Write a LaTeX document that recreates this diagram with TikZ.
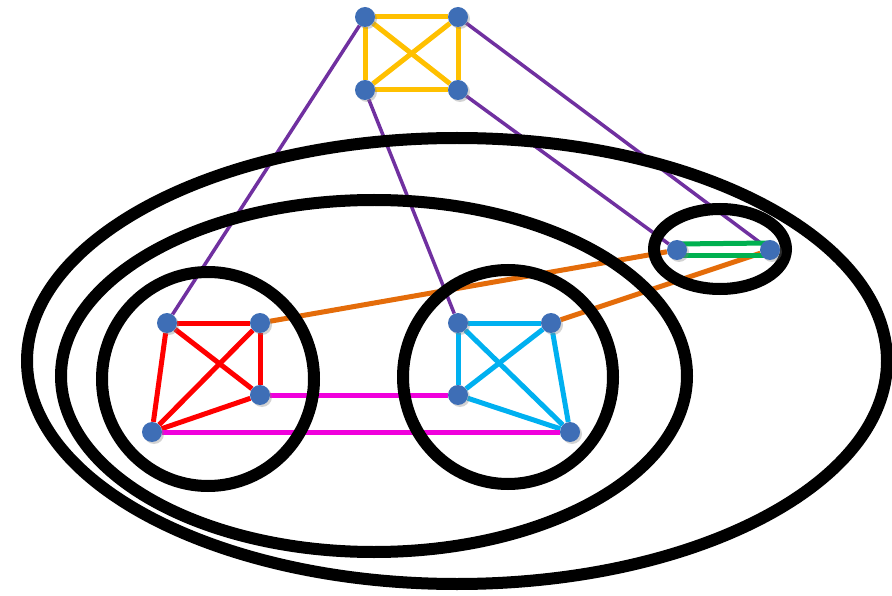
\documentclass[tikz,border=0pt]{standalone}
\usetikzlibrary{shadows}

\definecolor{vblue}{RGB}{62,110,182}
\definecolor{kyellow}{RGB}{255,192,0}
\definecolor{kpurple}{RGB}{112,48,160}
\definecolor{korange}{RGB}{228,108,10}
\definecolor{kred}{RGB}{255,0,0}
\definecolor{kcyan}{RGB}{0,176,240}
\definecolor{kmagenta}{RGB}{240,0,220}
\definecolor{kgreen}{RGB}{0,176,80}

\pgfdeclarelayer{background}
\pgfsetlayers{background,main}

\begin{document}
\begin{tikzpicture}[x=1pt, y=-1pt,
  vertex/.style={circle, fill=vblue, inner sep=0pt, minimum size=20pt,
    drop shadow={shadow xshift=2pt, shadow yshift=-2pt, opacity=0.35}},
  ring/.style={line width=12pt, black},
  kedge/.style={line width=5pt}]

\useasboundingbox (0,0) rectangle (892,596);

% Vertices of the top clique
\node[vertex] (t1) at (365,17) {};
\node[vertex] (t2) at (458,17) {};
\node[vertex] (t3) at (365,90) {};
\node[vertex] (t4) at (458,90) {};

% Vertices of the left group
\node[vertex] (r1) at (167,323) {};
\node[vertex] (r2) at (260,323) {};
\node[vertex] (r3) at (260,395) {};
\node[vertex] (r4) at (152,432) {};

% Vertices of the middle group
\node[vertex] (c1) at (458,323) {};
\node[vertex] (c2) at (551,323) {};
\node[vertex] (c3) at (458,395) {};
\node[vertex] (c4) at (570,432) {};

% Vertices of the small group
\node[vertex] (s1) at (677,250) {};
\node[vertex] (s2) at (770,250) {};

\begin{pgfonlayer}{background}
% Top clique
\foreach \a/\b in {t1/t2, t2/t4, t4/t3, t3/t1, t1/t4, t2/t3} {
    \draw[kedge, kyellow] (\a) -- (\b);
}

% Links from the top clique
\foreach \a/\b in {t1/r1, t3/c1, t2/s2, t4/s1} {
    \draw[line width=3.5pt, kpurple] (\a) -- (\b);
}

% Left group
\foreach \a/\b in {r1/r2, r2/r3, r1/r4, r1/r3, r2/r4, r4/r3} {
    \draw[kedge, kred] (\a) -- (\b);
}

% Middle group
\foreach \a/\b in {c1/c2, c2/c4, c1/c3, c3/c4, c1/c4, c2/c3} {
    \draw[kedge, kcyan] (\a) -- (\b);
}

% Links between groups
\draw[kedge, kmagenta] (r3) -- (c3);
\draw[kedge, kmagenta] (r4) -- (c4);
\draw[kedge, korange] (r2) -- (s1);
\draw[kedge, korange] (c2) -- (s2);

% Small group
\draw[kedge, kgreen] ([yshift=6pt]s1.center) -- ([yshift=7pt]s2.center);
\draw[kedge, kgreen] ([yshift=-6pt]s1.center) -- ([yshift=-6pt]s2.center);

% Nested regions
\draw[ring] (457,361) ellipse (430 and 223);
\draw[ring] (374,376) ellipse (313 and 176);
\draw[ring] (208,379) ellipse (106 and 107);
\draw[ring] (508,377) ellipse (105 and 107);
\draw[ring] (720,249) ellipse (66 and 40);
\end{pgfonlayer}

\end{tikzpicture}
\end{document}
